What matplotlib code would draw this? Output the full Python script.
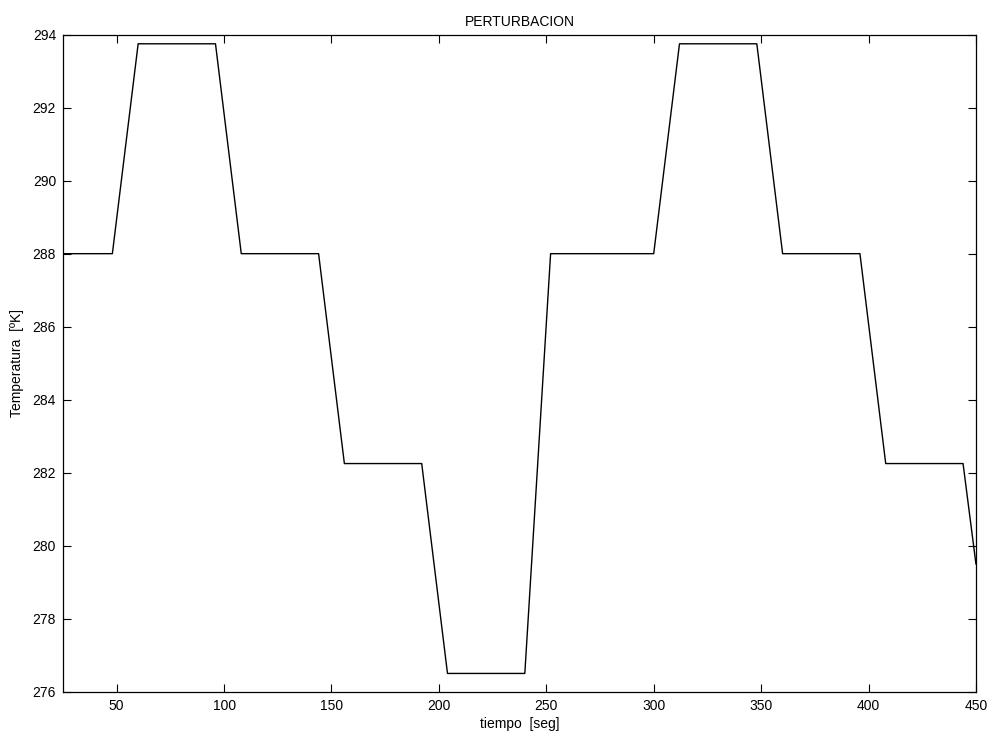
import matplotlib
matplotlib.use('Agg')
import matplotlib.pyplot as plt

# breakpoints of the perturbation signal (time in s, temperature in K)
tiempo = [25, 48, 60, 96, 108, 144, 156, 192, 204, 240, 252, 300, 312, 348, 360, 396, 408, 444, 450]
temperatura = [288, 288, 293.75, 293.75, 288, 288, 282.25, 282.25, 276.5, 276.5,
               288, 288, 293.75, 293.75, 288, 288, 282.25, 282.25, 279.5]

x_ticks = [50, 100, 150, 200, 250, 300, 350, 400, 450]
y_ticks = [276, 278, 280, 282, 284, 286, 288, 290, 292, 294]

plt.rcParams['font.family'] = ['Liberation Sans', 'DejaVu Sans']

fig = plt.figure(figsize=(9.9, 7.36), dpi=100)
ax = fig.add_axes([0.0636, 0.0602, 0.9222, 0.8927])
ax.plot(tiempo, temperatura, color='k', linewidth=1.0)

ax.set_xlim(25, 450)
ax.set_ylim(276, 294)
ax.set_xticks(x_ticks)
ax.set_yticks(y_ticks)
ax.tick_params(direction='in', top=True, right=True, length=6, width=0.8, labelsize=10, pad=5)
for s in ax.spines.values():
    s.set_linewidth(0.9)

ax.set_title('PERTURBACION', fontsize=10, pad=6)
ax.set_xlabel('tiempo  [seg]', fontsize=10, labelpad=3)
ax.set_ylabel('Temperatura  [ºK]', fontsize=10, labelpad=6)

fig.savefig('out.png', dpi=100)
